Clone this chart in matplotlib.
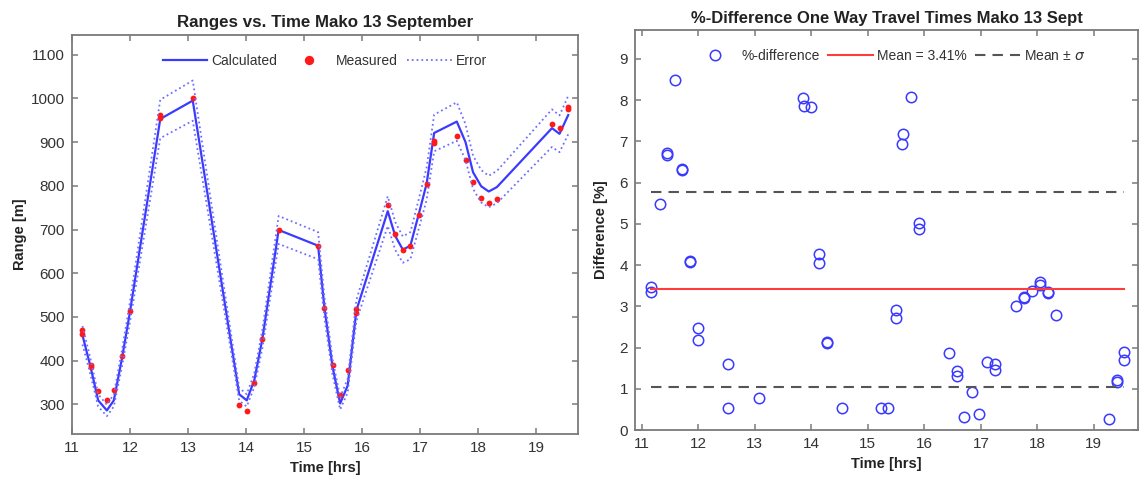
import matplotlib
matplotlib.use("Agg")
import matplotlib.pyplot as plt
import numpy as np

plt.rcParams['font.family'] = ['Liberation Sans', 'DejaVu Sans']
plt.rcParams['mathtext.fontset'] = 'dejavusans'

# ---- ranges (left panel) ----
calc_t = [11.18, 11.32, 11.45, 11.60, 11.72, 11.86, 11.99, 12.52, 13.08, 13.88,
          14.01, 14.14, 14.28, 14.56, 15.24, 15.35, 15.49, 15.62, 15.75, 15.90,
          16.44, 16.57, 16.70, 16.83, 16.97, 17.11, 17.24, 17.63, 17.78, 17.91,
          18.05, 18.18, 18.32, 19.27, 19.40, 19.55]
calc_r = [458, 385, 309, 286, 309, 405, 505, 953, 995, 323,
          309, 355, 450, 699, 663, 520, 385, 302, 343, 515,
          742, 685, 654, 663, 733, 805, 921, 947, 900, 831,
          799, 787, 797, 932, 919, 962]
calc_err = [21, 18, 14, 13, 14, 19, 23, 44, 46, 15,
            14, 16, 21, 32, 31, 24, 18, 14, 16, 24,
            34, 32, 30, 31, 34, 37, 42, 44, 41, 38,
            37, 36, 37, 43, 42, 44]

meas_t = [11.18, 11.18, 11.32, 11.32, 11.45, 11.60, 11.72, 11.86, 11.99, 12.52,
          12.52, 13.08, 13.88, 14.01, 14.14, 14.28, 14.56, 15.24, 15.35, 15.49,
          15.62, 15.75, 15.90, 15.90, 16.44, 16.57, 16.70, 16.83, 16.97, 17.11,
          17.24, 17.24, 17.63, 17.78, 17.91, 18.05, 18.18, 18.32, 19.27, 19.40,
          19.55, 19.55]
meas_r = [471, 462, 391, 386, 330, 311, 332, 410, 513, 962,
          956, 1000, 298, 285, 349, 449, 699, 663, 521, 389,
          321, 378, 519, 509, 755, 690, 654, 663, 734, 804,
          903, 897, 913, 858, 808, 772, 760, 770, 942, 932,
          981, 976]

# ---- percent difference (right panel) ----
diff_t = [11.17, 11.17, 11.32, 11.45, 11.45, 11.58, 11.71, 11.71, 11.85, 11.85,
          11.99, 11.99, 12.53, 12.52, 13.07, 13.85, 13.87, 14.00, 14.14,
          14.14, 14.28, 14.28, 14.55, 15.23, 15.36, 15.49, 15.49, 15.61, 15.63,
          15.77, 15.90, 15.90, 16.43, 16.57, 16.57, 16.70, 16.84, 16.97, 17.11,
          17.25, 17.25, 17.63, 17.77, 17.77, 17.91, 18.05, 18.05, 18.19, 18.19,
          18.33, 19.27, 19.41, 19.41, 19.54, 19.54]
diff_v = [3.47, 3.35, 5.47, 6.71, 6.68, 8.50, 6.34, 6.31, 4.10, 4.07,
          2.48, 2.18, 1.61, 0.53, 0.77, 8.05, 7.86, 7.83, 4.27,
          4.05, 2.14, 2.12, 0.54, 0.53, 0.53, 2.91, 2.72, 6.93, 7.18,
          8.07, 5.02, 4.88, 1.87, 1.42, 1.32, 0.32, 0.91, 0.39, 1.64,
          1.59, 1.46, 3.01, 3.20, 3.23, 3.37, 3.60, 3.51, 3.35, 3.33,
          2.80, 0.27, 1.22, 1.16, 1.89, 1.71]
diff_mean = 3.41
diff_std = 2.37

axis_grey = '#7a7a7a'
text_grey = '#333333'

fig = plt.figure(figsize=(11.4, 4.83), dpi=100)
ax1 = fig.add_axes([0.0632, 0.1014, 0.4439, 0.826])
ax2 = fig.add_axes([0.557, 0.1097, 0.4412, 0.828])

def style(ax):
    for s in ax.spines.values():
        s.set_color(axis_grey)
        s.set_linewidth(1.3)
    ax.tick_params(direction='in', top=True, right=True, length=4, width=1.1,
                   color=axis_grey, labelcolor=text_grey, labelsize=11, pad=5)

# left panel
ct = np.array(calc_t)
cr = np.array(calc_r)
ce = np.array(calc_err)
ax1.plot(ct, cr, color='#3b3bff', lw=1.6, label='Calculated')
ax1.plot(meas_t, meas_r, 'o', color='#ff1a1a', ms=4.2, mec='none', label='Measured')
ax1.plot(ct, cr + ce, ':', color='#6f6fff', lw=1.3, label='Error')
ax1.plot(ct, cr - ce, ':', color='#6f6fff', lw=1.3)
ax1.set_xlim(11, 19.72)
ax1.set_ylim(232, 1145)
ax1.set_xticks(range(11, 20))
ax1.set_yticks(range(300, 1101, 100))
ax1.set_title('Ranges vs. Time Mako 13 September', fontsize=12.2,
              fontweight='bold', color='#222222', pad=6)
ax1.set_xlabel('Time [hrs]', fontsize=10.5, fontweight='bold', color='#222222')
ax1.set_ylabel('Range [m]', fontsize=10.5, fontweight='bold', color='#222222', labelpad=3)
ax1.legend(loc='upper center', ncol=3, frameon=False, fontsize=10,
           bbox_to_anchor=(0.5, 0.985), handlelength=3.2, columnspacing=0.7,
           handletextpad=0.3, labelcolor=text_grey, markerscale=1.6)
style(ax1)

# right panel
ax2.plot(diff_t, diff_v, 'o', mfc='none', mec='#3a3aff', mew=1.1, ms=7.5,
         label='%-difference')
t0, t1 = min(diff_t), max(diff_t)
ax2.plot([t0, t1], [diff_mean, diff_mean], color='#ff3b3b', lw=1.5,
         label=f'Mean = {diff_mean:.2f}%')
ax2.plot([t0, t1], [diff_mean + diff_std] * 2, '--', color='#555555', lw=1.5,
         dashes=(5, 3.4), label='Mean ± $\\sigma$')
ax2.plot([t0, t1], [diff_mean - diff_std] * 2, '--', color='#555555', lw=1.5,
         dashes=(5, 3.4))
ax2.set_xlim(10.88, 19.78)
ax2.set_ylim(0, 9.7)
ax2.set_xticks(range(11, 20))
ax2.set_yticks(range(0, 10))
ax2.set_title('%-Difference One Way Travel Times Mako 13 Sept', fontsize=12,
              fontweight='bold', color='#222222', pad=5)
ax2.set_xlabel('Time [hrs]', fontsize=10.5, fontweight='bold', color='#222222')
ax2.set_ylabel('Difference [%]', fontsize=10.5, fontweight='bold', color='#222222', labelpad=8)
ax2.legend(loc='upper center', ncol=3, frameon=False, fontsize=10,
           bbox_to_anchor=(0.505, 0.985), handlelength=3.2, columnspacing=0.6,
           handletextpad=0.3, labelcolor=text_grey)
style(ax2)

fig.savefig('out.png', dpi=100)
